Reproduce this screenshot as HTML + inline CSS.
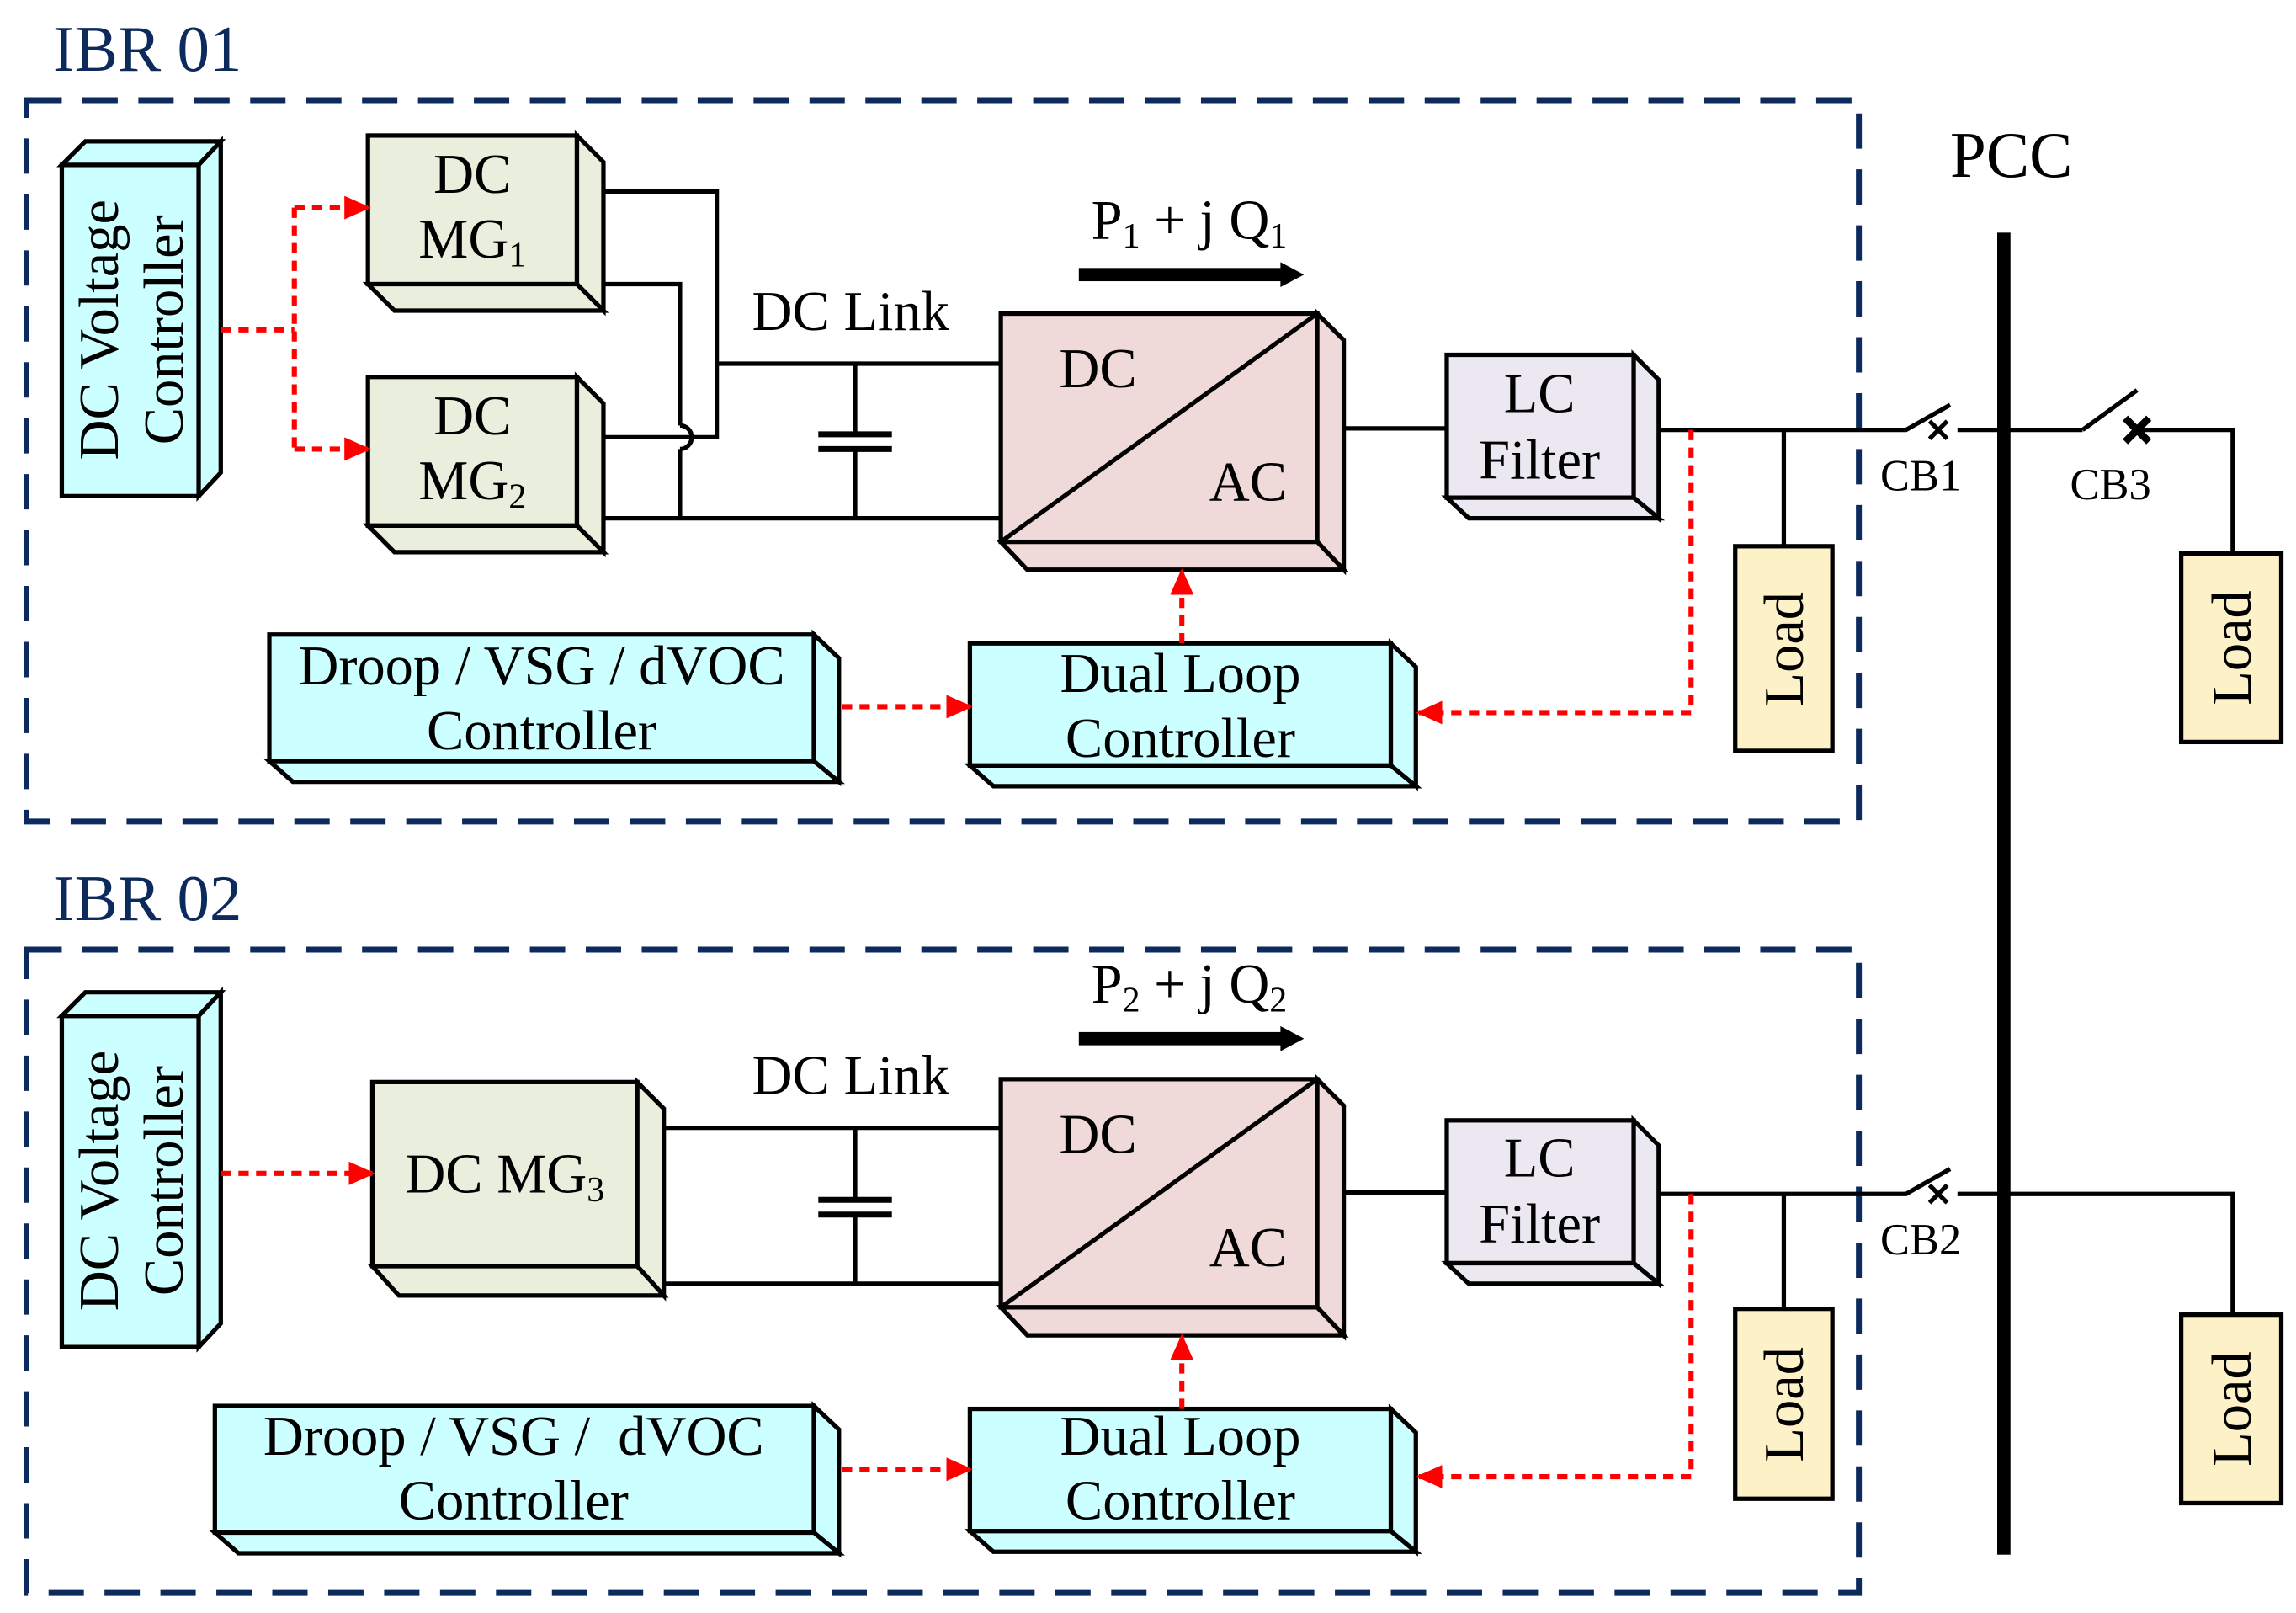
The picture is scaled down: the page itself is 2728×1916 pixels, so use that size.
<!DOCTYPE html>
<html><head><meta charset="utf-8"><style>
html,body{margin:0;padding:0;background:#fff}
svg{display:block}
text{font-family:"Liberation Serif",serif;fill:#000}
</style></head><body>
<svg width="2728" height="1916" viewBox="0 0 1560 1095.6" xmlns="http://www.w3.org/2000/svg">
<defs>
<marker id="ra" markerWidth="18" markerHeight="16" refX="16" refY="8" orient="auto" markerUnits="userSpaceOnUse" viewBox="0 0 18 16"><path d="M0,0 L18,8 L0,16 z" fill="#f00"/></marker>
</defs>
<g fill="none" stroke="#0d2a5c" stroke-width="4" stroke-dasharray="24,14">
<rect x="18" y="68" width="1245" height="490"/>
<rect x="18" y="645" width="1245" height="437"/>
</g>
<text x="36" y="48" font-size="44" style="fill:#0d2a5c">IBR 01</text>
<text x="36" y="625" font-size="44" style="fill:#0d2a5c">IBR 02</text>
<text x="1325" y="120" font-size="44">PCC</text>
<rect x="1357" y="158" width="9" height="898" fill="#000"/>

<g stroke="#000" stroke-width="3" stroke-linejoin="miter">
<g fill="#ccffff">
<rect x="42" y="112" width="93" height="225"/>
<polygon points="42,112 58,96 150,96 135,112"/>
<polygon points="135,112 150,96 150,321 135,337"/>
<rect x="42" y="690" width="93" height="225"/>
<polygon points="42,690 58,674 150,674 135,690"/>
<polygon points="135,690 150,674 150,899 135,915"/>
</g>
<g fill="#e9efdc">
<rect x="250" y="92" width="142" height="101"/><polygon points="392,92 410,110 410,211 392,193"/><polygon points="250,193 392,193 410,211 268,211"/>
<rect x="250" y="256" width="142" height="101"/><polygon points="392,256 410,274 410,375 392,357"/><polygon points="250,357 392,357 410,375 268,375"/>
<rect x="253" y="735" width="180" height="125"/><polygon points="433,735 451,753 451,880 433,860"/><polygon points="253,860 433,860 451,880 271,880"/>
</g>
<g fill="#f0d9d9">
<rect x="680" y="213" width="215" height="155"/><polygon points="895,213 913,231 913,387 895,368"/><polygon points="680,368 895,368 913,387 698,387"/>
<line x1="680" y1="368" x2="895" y2="213"/>
<rect x="680" y="733" width="215" height="155"/><polygon points="895,733 913,751 913,907 895,888"/><polygon points="680,888 895,888 913,907 698,907"/>
<line x1="680" y1="888" x2="895" y2="733"/>
</g>
<g fill="#ebe8f2">
<rect x="983" y="241" width="127" height="97"/><polygon points="1110,241 1127,258 1127,352 1110,338"/><polygon points="983,338 1110,338 1127,352 998,352"/>
<rect x="983" y="761" width="127" height="97"/><polygon points="1110,761 1127,778 1127,872 1110,858"/><polygon points="983,858 1110,858 1127,872 998,872"/>
</g>
<g fill="#ccffff">
<rect x="183" y="431" width="370" height="86"/><polygon points="553,431 570,447 570,531 553,517"/><polygon points="183,517 553,517 570,531 199,531"/>
<rect x="659" y="437" width="286" height="83"/><polygon points="945,437 962,453 962,534 945,520"/><polygon points="659,520 945,520 962,534 675,534"/>
<rect x="146" y="955" width="407" height="86"/><polygon points="553,955 570,971 570,1055 553,1041"/><polygon points="146,1041 553,1041 570,1055 162,1055"/>
<rect x="659" y="957" width="286" height="83"/><polygon points="945,957 962,973 962,1054 945,1040"/><polygon points="659,1040 945,1040 962,1054 675,1054"/>
</g>
<g fill="#fdf1c7">
<rect x="1179" y="371" width="66" height="139"/>
<rect x="1482" y="376" width="68" height="128"/>
<rect x="1179" y="889" width="66" height="129"/>
<rect x="1482" y="893" width="68" height="128"/>
</g>
<g fill="none">
<polyline points="410,130 487,130 487,297 410,297"/>
<polyline points="410,193 462,193 462,289"/>
<path d="M462,289 a8,8 0 0 1 0,16"/>
<line x1="462" y1="305" x2="462" y2="352"/>
<line x1="410" y1="352" x2="680" y2="352"/>
<line x1="487" y1="247" x2="680" y2="247"/>
<line x1="581" y1="247" x2="581" y2="295"/><line x1="581" y1="305" x2="581" y2="352"/>
<line x1="556" y1="295" x2="606" y2="295" stroke-width="4"/><line x1="556" y1="305" x2="606" y2="305" stroke-width="4"/>
<line x1="913" y1="291" x2="983" y2="291"/>
<polyline points="1127,292 1295,292 1325,275"/>
<line x1="1330" y1="292" x2="1415" y2="292"/>
<polyline points="1415,292 1452,265"/>
<polyline points="1452,292 1517,292 1517,376"/>
<line x1="1212" y1="292" x2="1212" y2="371"/>
<line x1="451" y1="766" x2="680" y2="766"/>
<line x1="451" y1="872" x2="680" y2="872"/>
<line x1="581" y1="766" x2="581" y2="815"/><line x1="581" y1="825" x2="581" y2="872"/>
<line x1="556" y1="815" x2="606" y2="815" stroke-width="4"/><line x1="556" y1="825" x2="606" y2="825" stroke-width="4"/>
<line x1="913" y1="810" x2="983" y2="810"/>
<polyline points="1127,811 1295,811 1325,794"/>
<polyline points="1330,811 1517,811 1517,893"/>
<line x1="1212" y1="811" x2="1212" y2="889"/>
</g>
<g stroke-width="3">
<line x1="1311" y1="286" x2="1323" y2="298"/><line x1="1323" y1="286" x2="1311" y2="298"/>
<line x1="1311" y1="805" x2="1323" y2="817"/><line x1="1323" y1="805" x2="1311" y2="817"/>
</g>
<g stroke-width="5">
<line x1="1444" y1="284" x2="1460" y2="300"/><line x1="1460" y1="284" x2="1444" y2="300"/>
</g>
</g>
<g fill="#000">
<rect x="733" y="182" width="140" height="9"/><polygon points="870,178 886,186.5 870,195"/>
<rect x="733" y="701" width="140" height="9"/><polygon points="870,697 886,705.5 870,714"/>
</g>
<g fill="none" stroke="#f00" stroke-width="3.5" stroke-dasharray="7,5">
<line x1="150" y1="224" x2="200" y2="224"/>
<line x1="200" y1="141" x2="200" y2="305"/>
<line x1="200" y1="141" x2="250" y2="141" marker-end="url(#ra)"/>
<line x1="200" y1="305" x2="250" y2="305" marker-end="url(#ra)"/>
<line x1="572" y1="480" x2="659" y2="480" marker-end="url(#ra)"/>
<line x1="803" y1="437" x2="803" y2="388" marker-end="url(#ra)"/>
<polyline points="1149,292 1149,484 964,484" marker-end="url(#ra)"/>
<line x1="150" y1="797" x2="253" y2="797" marker-end="url(#ra)"/>
<line x1="572" y1="998" x2="659" y2="998" marker-end="url(#ra)"/>
<line x1="803" y1="957" x2="803" y2="908" marker-end="url(#ra)"/>
<polyline points="1149,811 1149,1003 964,1003" marker-end="url(#ra)"/>
</g>
<g font-size="38" text-anchor="middle">
<text transform="translate(80,224) rotate(-90)">DC Voltage</text>
<text transform="translate(124,224) rotate(-90)">Controller</text>
<text transform="translate(80,802) rotate(-90)">DC Voltage</text>
<text transform="translate(124,802) rotate(-90)">Controller</text>
<text x="321" y="131">DC</text>
<text x="321" y="175">MG<tspan font-size="24" dy="6">1</tspan></text>
<text x="321" y="295">DC</text>
<text x="321" y="339">MG<tspan font-size="24" dy="6">2</tspan></text>
<text x="343" y="810">DC MG<tspan font-size="24" dy="6">3</tspan></text>
<text x="578" y="224">DC Link</text>
<text x="578" y="743">DC Link</text>
<text x="746" y="263">DC</text><text x="848" y="340">AC</text>
<text x="746" y="783">DC</text><text x="848" y="860">AC</text>
<text x="1046" y="280">LC</text><text x="1046" y="325">Filter</text>
<text x="1046" y="799">LC</text><text x="1046" y="844">Filter</text>
<text x="368" y="465">Droop / VSG / dVOC</text><text x="368" y="509">Controller</text>
<text x="349" y="988" xml:space="preserve">Droop / VSG /  dVOC</text><text x="349" y="1032">Controller</text>
<text x="802" y="470">Dual Loop</text><text x="802" y="514">Controller</text>
<text x="802" y="988">Dual Loop</text><text x="802" y="1032">Controller</text>
<text transform="translate(1225,441) rotate(-90)">Load</text>
<text transform="translate(1529,440) rotate(-90)">Load</text>
<text transform="translate(1225,954) rotate(-90)">Load</text>
<text transform="translate(1529,957) rotate(-90)">Load</text>
<text x="808" y="162">P<tspan font-size="24" dy="6">1</tspan><tspan dy="-6"> + j Q</tspan><tspan font-size="24" dy="6">1</tspan></text>
<text x="808" y="681">P<tspan font-size="24" dy="6">2</tspan><tspan dy="-6"> + j Q</tspan><tspan font-size="24" dy="6">2</tspan></text>
</g>
<g font-size="30" text-anchor="middle">
<text x="1305" y="333">CB1</text>
<text x="1434" y="339">CB3</text>
<text x="1305" y="852">CB2</text>
</g>
</svg>
</body></html>
